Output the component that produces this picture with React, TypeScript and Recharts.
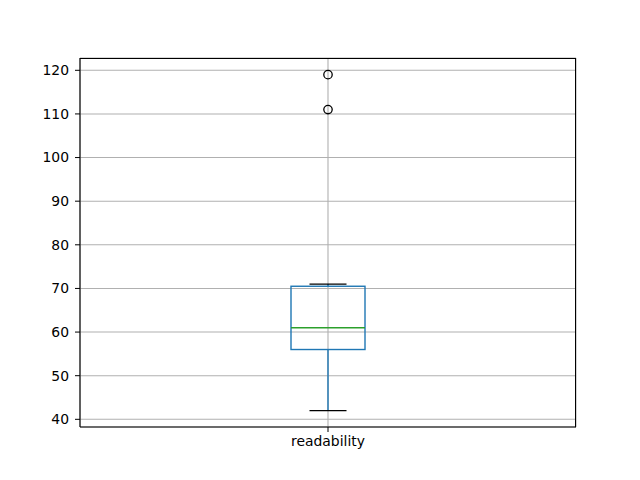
import React from 'react';
import { Bar, CartesianGrid, ComposedChart, Line, XAxis, YAxis } from 'recharts';

const categories = ['readability'];
const whiskerLow = [42];
const quartile1 = [56];
const medians = [61];
const quartile3 = [70.5];
const whiskerHigh = [71];
const outliersA = [111];
const outliersB = [119];
const yTicks = [40, 50, 60, 70, 80, 90, 100, 110, 120];

const data = categories.map((name, i) => ({
  name,
  range: [whiskerLow[i], whiskerHigh[i]],
  low: whiskerLow[i],
  q1: quartile1[i],
  median: medians[i],
  q3: quartile3[i],
  high: whiskerHigh[i],
  outA: outliersA[i],
  outB: outliersB[i],
}));

const BLUE = '#1f77b4';
const GREEN = '#2ca02c';
const font = { fill: '#000', fontSize: 13.9, fontFamily: 'DejaVu Sans' };

// box drawn inside the range bar; inner values placed linearly between its ends
function BoxShape(props: any) {
  const { x, y, width, height, payload } = props;
  const top = Math.min(y, y + height);
  const bottom = Math.max(y, y + height);
  const { low, high, q1, q3, median } = payload;
  const py = (v: number) => bottom - ((v - low) / (high - low)) * (bottom - top);
  const cx = x + width / 2;
  const capHalf = width / 4;
  return (
    <g>
      <line x1={cx} x2={cx} y1={py(q1)} y2={py(low)} stroke={BLUE} strokeWidth={1.4} />
      <line x1={cx} x2={cx} y1={py(q3)} y2={py(high)} stroke={BLUE} strokeWidth={1.4} />
      <line x1={cx - capHalf} x2={cx + capHalf} y1={py(low)} y2={py(low)} stroke="#000" strokeWidth={1.4} />
      <line x1={cx - capHalf} x2={cx + capHalf} y1={py(high)} y2={py(high)} stroke="#000" strokeWidth={1.4} />
      <rect x={x} y={py(q3)} width={width} height={py(q1) - py(q3)} fill="none" stroke={BLUE} strokeWidth={1.4} />
      <line x1={x} x2={x + width} y1={py(median)} y2={py(median)} stroke={GREEN} strokeWidth={1.4} />
    </g>
  );
}

const outlierDot = { r: 4.2, fill: 'none', stroke: '#000', strokeWidth: 1.3 };

export default function App() {
  return (
    <div style={{ position: 'absolute', left: 0, top: 0, width: 640, height: 480, background: '#fff' }}>
      <ComposedChart width={640} height={480} data={data} margin={{ top: 58, right: 64, bottom: 0, left: 0 }}>
        <CartesianGrid stroke="#b0b0b0" strokeWidth={1.1} />
        <XAxis
          dataKey="name"
          type="category"
          height={53}
          tick={font}
          tickSize={5}
          tickMargin={4}
          stroke="#000"
          tickLine={{ stroke: '#000' }}
          axisLine={{ stroke: '#000', strokeWidth: 1.1 }}
        />
        <YAxis
          type="number"
          domain={[38.24, 122.82]}
          ticks={yTicks}
          allowDataOverflow
          width={80}
          tick={font}
          tickSize={5}
          tickMargin={6}
          stroke="#000"
          tickLine={{ stroke: '#000' }}
          axisLine={{ stroke: '#000', strokeWidth: 1.1 }}
        />
        <Bar dataKey="range" barSize={74} shape={<BoxShape />} isAnimationActive={false} />
        <Line dataKey="outA" stroke="none" dot={outlierDot} activeDot={false} isAnimationActive={false} />
        <Line dataKey="outB" stroke="none" dot={outlierDot} activeDot={false} isAnimationActive={false} />
      </ComposedChart>
      {/* axes frame */}
      <div
        style={{
          position: 'absolute',
          left: 80,
          top: 58,
          width: 496,
          height: 369,
          boxSizing: 'border-box',
          borderTop: '1px solid #000',
          borderRight: '1px solid #000',
          pointerEvents: 'none',
        }}
      />
    </div>
  );
}
